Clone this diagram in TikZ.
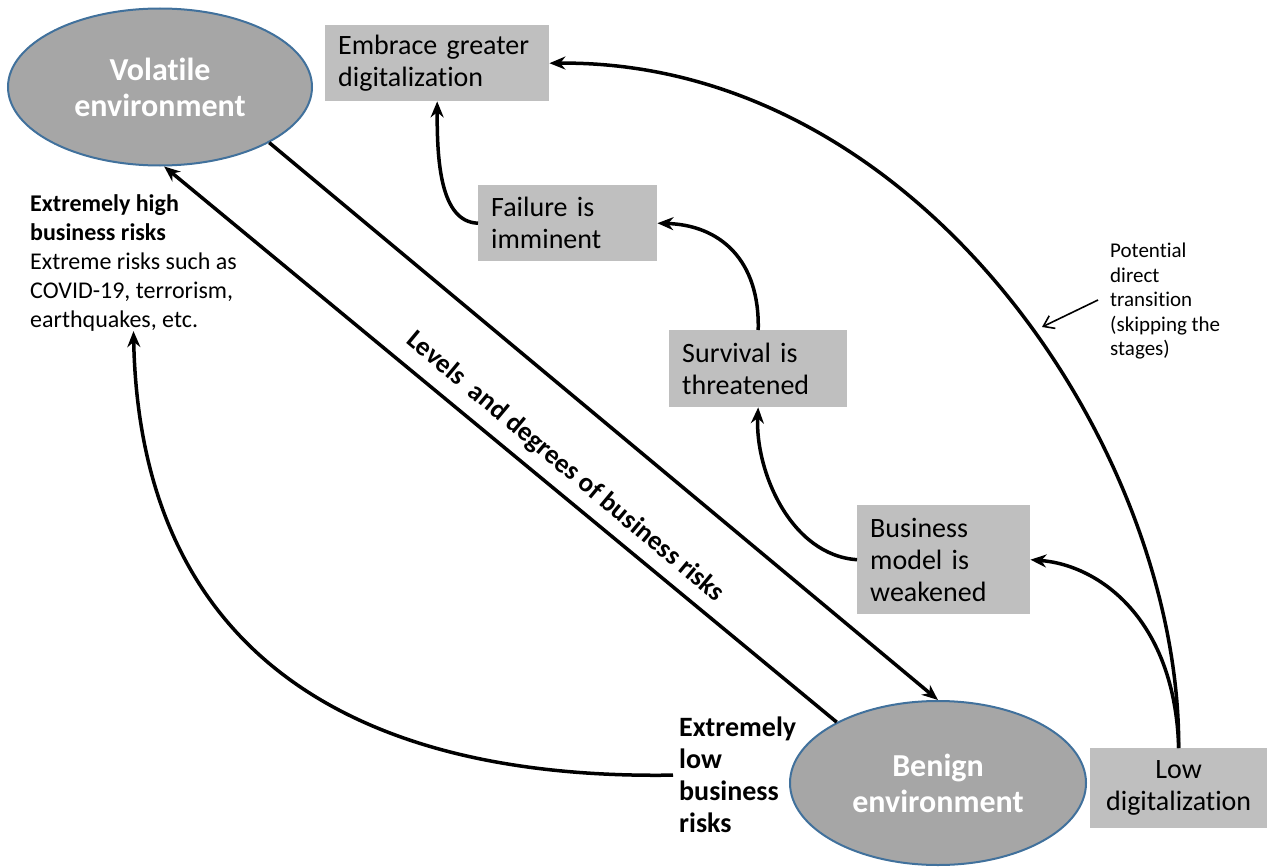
\documentclass[tikz,border=0pt]{standalone}
\usepackage{fontspec}
\setmainfont{Carlito}[RawFeature={-liga;-dlig;-clig}]
\usetikzlibrary{shapes.geometric,arrows.meta}
\definecolor{envfill}{HTML}{A6A6A6}
\definecolor{envline}{HTML}{41719C}
\definecolor{boxfill}{HTML}{BFBFBF}
\begin{document}
\begin{tikzpicture}[x=1pt,y=-1pt,
  env/.style={ellipse,draw=envline,line width=2pt,fill=envfill,inner sep=0pt,
    text=white,font=\fontsize{32}{36}\selectfont\bfseries,align=center},
  stagebox/.style={rectangle,fill=boxfill,anchor=north west,inner xsep=13pt,inner ysep=0pt,
    align=left,font=\fontsize{28}{32}\selectfont},
  arr/.style={line width=3.5pt,-{Stealth[length=16pt,width=13pt]}},
  lbl/.style={inner sep=0pt,anchor=north west,align=left}]
\useasboundingbox (0,0) rectangle (1267,867);
% ellipses
\node[env,minimum width=304pt,minimum height=157pt] (vol) at (160,87) {Volatile\\environment};
\node[env,minimum width=296pt,minimum height=164pt] (ben) at (938,783) {Benign\\environment};
% boxes
\node[stagebox,minimum width=224pt,minimum height=76pt,text width=198pt] (emb) at (325,25) {Embrace greater\\digitalization};
\node[stagebox,minimum width=179pt,minimum height=76pt,text width=153pt] (fail) at (478,185) {Failure is\\imminent};
\node[stagebox,minimum width=178pt,minimum height=77pt,text width=152pt] (surv) at (669,330) {Survival is\\threatened};
\node[stagebox,minimum width=173pt,minimum height=109pt,text width=147pt] (bus) at (857,505) {Business\\model is\\weakened};
\node[stagebox,minimum width=177pt,minimum height=80pt,text width=175pt,inner xsep=1pt,align=center] (low) at (1090,748) {Low\\digitalization};
% texts
\node[lbl,font=\fontsize{24}{29}\selectfont] (high) at (30,194) {\textbf{Extremely high}\\\textbf{business risks}\\Extreme risks such as\\COVID-19, terrorism,\\earthquakes, etc.};
\node[lbl,font=\fontsize{28}{32}\selectfont\bfseries,inner xsep=6pt,inner ysep=0pt] (lowrisk) at (673,717) {Extremely\\low\\business\\risks};
\node[lbl,font=\fontsize{21}{24.5}\selectfont] (pot) at (1110,243) {Potential\\direct\\transition\\(skipping the\\stages)};
\node[font=\fontsize{27}{30}\selectfont\bfseries,rotate=-39.9] (levels) at (565,467) {Levels\ \ and degrees of business risks};
% straight connectors
\draw[arr] (vol.-27) -- (ben.north);
\draw[arr] (ben.149) -- (vol.-87);
% curved connectors
\draw[arr] (lowrisk.west) .. controls (350,780) and (140,650) .. (high.south);
\draw[arr] (low.north) .. controls (1180,450) and (920,60) .. (emb.east);
\draw[arr] (low.north) .. controls (1175,620) and (1100,565) .. (bus.east);
\draw[arr] (bus.west) .. controls (790,555) and (755,470) .. (surv.south);
\draw[arr] (surv.north) .. controls (760,260) and (720,225) .. (fail.east);
\draw[arr] (fail.west) .. controls (440,222) and (437,160) .. (emb.south);
% thin pointer
\coordinate (pa) at (1098,300);
\coordinate (pb) at (1042,327);
\draw[line width=1.6pt,-{Straight Barb[length=10pt,width=14pt]}] (pa) -- (pb);
\end{tikzpicture}
\end{document}
